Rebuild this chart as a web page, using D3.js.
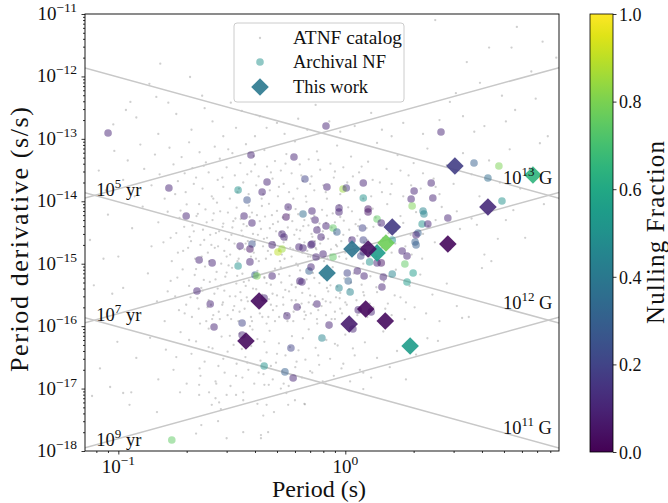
<!DOCTYPE html>
<html><head><meta charset="utf-8">
<script src="https://cdn.jsdelivr.net/npm/d3@7"></script>
<style>
body{margin:0;background:#fff}
text{font-family:"Liberation Serif","DejaVu Serif",serif;fill:#111}
</style>
</head><body>
<svg id="chart" width="668" height="503"></svg>
<script>
// ---------------- DATA ----------------
const xMajorTicks = [0.1, 1];
const xMinorTicks = [0.08,0.09,0.2,0.3,0.4,0.5,0.6,0.7,0.8,0.9,2,3,4,5,6,7,8];
const yMajorTicks = [1e-11,1e-12,1e-13,1e-14,1e-15,1e-16,1e-17,1e-18];
const yTickExp = ["−11","−12","−13","−14","−15","−16","−17","−18"];
const xTickExp = ["−1","0"];
const cbTicks = [0,0.2,0.4,0.6,0.8,1.0];
const ageLinesYr = [1e5,1e7,1e9];
const ageLabels = ["5","7","9"];
const bLinesG = [1e11,1e12,1e13];
const bLabels = ["11","12","13"];
const legendLabels = ["ATNF catalog","Archival NF","This work"];

// ATNF catalog pulsars [P (s), Pdot (s/s)]
const atnfPoints = [
[2.49,8.0e-12],[5.7,6.2e-12],[3.43,1.7e-12],[4.3,2.9e-12],[5.4,2.9e-12],[7.4,3.6e-12],[8.5,2.0e-12],[6.6,1.2e-12],[0.153,1.6e-12],[0.207,9.8e-13],[0.137,7.6e-13],[0.113,3.9e-13],[0.147,4.7e-13],[0.234,4.9e-13],[0.166,3.8e-13],[0.313,3.8e-13],[3.92,7.9e-13],[4.9,4.9e-13],[6.9,4.4e-13],[2.89,3.9e-13],[3.07,5.4e-13],
[0.12,2.2e-13],[0.18,2.5e-13],[0.26,1.9e-13],[0.35,2.8e-13],[0.45,1.5e-13],[0.62,2.1e-13],[0.95,1.3e-13],[1.3,2.6e-13],[1.8,1.8e-13],[2.2,1.2e-13],[3.3,2.3e-13],[4.1,1.6e-13],[5.6,2.9e-13],[7.8,1.1e-13],[0.095,1.7e-13],[0.21,1.4e-13],[0.29,1.1e-13],[0.54,1.2e-13],[0.74,3.5e-13],[1.1,1.6e-13],[1.6,1.1e-13],[2.6,2.0e-13],[0.15,1.2e-13],[0.4,1.1e-13],[0.33,1.5e-13],[0.5,1.8e-13],[0.85,1.9e-13],[1.45,1.4e-13],[0.24,3.1e-13],[0.68,1.4e-13],[3.7,1.3e-13],[5.1,1.9e-13],[0.108,2.9e-13],[0.42,2.3e-13],
[0.082,3.1e-14],[0.088,1.5e-14],[0.096,6.4e-14],[0.105,2.2e-14],[0.11,4.5e-14],[0.118,1.2e-14],[0.125,8.1e-14],[0.13,3.3e-14],[0.14,1.8e-14],[0.145,5.6e-14],[0.152,2.7e-14],[0.16,1.1e-14],[0.168,7.2e-14],[0.175,3.9e-14],[0.183,2.1e-14],[0.19,5.1e-14],[0.198,1.4e-14],[0.205,8.8e-14],[0.212,3.4e-14],[0.22,2.4e-14],[0.228,6.1e-14],[0.235,1.6e-14],[0.243,4.2e-14],[0.25,2.9e-14],[0.258,1.2e-14],[0.266,7.5e-14],[0.274,2.2e-14],[0.28,4.8e-14],[0.29,1.7e-14],[0.3,3.5e-14],[0.31,1.1e-14],[0.318,5.9e-14],[0.326,2.6e-14],[0.335,1.4e-14],[0.345,4.1e-14],[0.355,2.0e-14],[0.365,8.2e-14],[0.375,1.3e-14],[0.385,3.0e-14],[0.395,5.3e-14],[0.405,1.8e-14],[0.415,2.5e-14],[0.428,1.1e-14],[0.44,6.6e-14],[0.452,3.6e-14],[0.465,1.5e-14],[0.478,2.3e-14],[0.49,4.4e-14],[0.505,1.2e-14],[0.52,3.1e-14],[0.535,1.9e-14],[0.55,5.7e-14],[0.565,1.4e-14],[0.58,2.8e-14],[0.6,9.1e-14],[0.615,1.6e-14],[0.63,3.9e-14],[0.65,2.1e-14],[0.67,1.2e-14],[0.69,4.7e-14],[0.71,2.5e-14],[0.73,1.5e-14],[0.75,6.3e-14],[0.775,3.2e-14],[0.8,1.8e-14],[0.83,1.1e-14],[0.86,4.0e-14],[0.89,2.4e-14],[0.92,7.8e-14],[0.95,1.3e-14],[0.98,3.5e-14],[1.02,2.0e-14],[1.06,5.2e-14],[1.1,1.5e-14],[1.15,2.9e-14],[1.2,1.1e-14],[1.26,4.3e-14],[1.32,2.2e-14],[1.38,8.6e-14],[1.45,1.4e-14],[1.52,3.3e-14],[1.6,1.9e-14],[1.7,5.5e-14],[1.8,1.2e-14],[1.9,2.6e-14],[2.0,4.1e-14],[2.15,1.6e-14],[2.3,7.0e-14],[2.45,2.3e-14],[2.6,1.3e-14],[2.8,3.8e-14],[3.0,1.9e-14],[3.3,5.9e-14],[3.6,2.7e-14],[3.9,1.2e-14],[4.3,4.5e-14],[4.8,2.0e-14],[5.3,6.8e-14],[5.9,1.6e-14],[6.5,3.4e-14],[7.2,8.5e-14],[8.0,2.2e-14],
[0.178,1.3e-14],[0.196,2.8e-14],[0.215,1.9e-14],[0.238,3.7e-14],[0.262,1.1e-14],[0.287,2.4e-14],[0.305,6.8e-14],[0.34,1.6e-14],[0.37,2.7e-14],[0.4,3.9e-14],[0.435,1.3e-14],[0.47,2.9e-14],[0.51,1.7e-14],[0.545,4.0e-14],[0.59,1.1e-14],[0.64,2.6e-14],[0.7,1.9e-14],[0.76,4.6e-14],[0.82,1.4e-14],[0.9,3.0e-14],[0.99,1.7e-14],[1.08,2.5e-14],[1.18,3.6e-14],[1.3,1.2e-14],[1.42,2.0e-14],[1.58,1.3e-14],[1.75,3.1e-14],[1.95,1.8e-14],[2.2,2.8e-14],[2.5,1.7e-14],
[0.075,2.4e-15],[0.09,6.1e-15],[0.1,1.3e-15],[0.115,3.7e-15],[0.128,8.2e-15],[0.14,1.9e-15],[0.15,4.6e-15],[0.158,2.2e-15],[0.165,6.8e-15],[0.172,1.1e-15],[0.18,3.1e-15],[0.186,5.4e-15],[0.193,1.6e-15],[0.2,8.9e-15],[0.206,2.7e-15],[0.212,4.1e-15],[0.218,1.2e-15],[0.224,6.3e-15],[0.23,2.0e-15],[0.236,3.5e-15],[0.242,7.4e-15],[0.248,1.5e-15],[0.254,2.9e-15],[0.26,5.0e-15],[0.266,1.8e-15],[0.272,9.5e-15],[0.278,3.3e-15],[0.284,1.0e-15],[0.29,4.4e-15],[0.297,2.5e-15],[0.304,6.6e-15],[0.311,1.4e-15],[0.318,3.8e-15],[0.325,2.1e-15],[0.332,7.9e-15],[0.339,1.2e-15],[0.346,5.2e-15],[0.353,2.8e-15],[0.36,1.7e-15],[0.368,4.0e-15],[0.376,8.5e-15],[0.384,1.3e-15],[0.392,3.0e-15],[0.4,2.3e-15],[0.408,6.0e-15],[0.416,1.1e-15],[0.425,3.6e-15],[0.434,1.9e-15],[0.443,5.7e-15],[0.452,2.6e-15],[0.461,9.1e-15],[0.47,1.4e-15],[0.48,4.3e-15],[0.49,2.0e-15],[0.5,7.0e-15],[0.51,1.6e-15],[0.52,3.2e-15],[0.53,5.5e-15],[0.54,1.2e-15],[0.55,2.4e-15],[0.56,8.0e-15],[0.572,1.8e-15],[0.584,4.8e-15],[0.596,2.9e-15],[0.608,1.0e-15],[0.62,6.2e-15],[0.633,3.4e-15],[0.646,1.5e-15],[0.66,2.2e-15],[0.674,9.8e-15],[0.688,4.1e-15],[0.702,1.3e-15],[0.716,2.7e-15],[0.73,5.9e-15],[0.745,1.7e-15],[0.76,3.9e-15],[0.775,2.1e-15],[0.79,7.3e-15],[0.806,1.1e-15],[0.822,4.5e-15],[0.84,2.5e-15],[0.86,1.4e-15],[0.88,6.4e-15],[0.9,3.1e-15],[0.92,1.9e-15],[0.94,8.7e-15],[0.96,2.3e-15],[0.985,4.9e-15],[1.01,1.2e-15],[1.04,3.5e-15],[1.07,6.9e-15],[1.1,1.6e-15],[1.13,2.8e-15],[1.16,5.1e-15],[1.2,1.0e-15],[1.24,3.7e-15],[1.28,2.0e-15],[1.32,7.6e-15],[1.37,1.3e-15],[1.42,4.2e-15],[1.47,2.6e-15],[1.53,9.0e-15],[1.6,1.5e-15],[1.67,3.3e-15],[1.75,5.8e-15],[1.84,1.9e-15],[1.94,2.9e-15],[2.05,6.7e-15],[2.18,1.2e-15],[2.32,4.0e-15],[2.48,2.2e-15],[2.66,8.1e-15],[2.9,1.7e-15],[3.2,3.6e-15],[3.6,5.3e-15],[4.1,1.4e-15],[4.7,2.5e-15],[5.5,7.2e-15],
[0.183,1.5e-15],[0.195,3.9e-15],[0.209,2.3e-15],[0.221,5.8e-15],[0.233,1.3e-15],[0.245,4.6e-15],[0.257,2.0e-15],[0.269,3.1e-15],[0.281,6.9e-15],[0.293,1.6e-15],[0.307,2.4e-15],[0.321,4.8e-15],[0.335,1.1e-15],[0.349,3.4e-15],[0.364,2.1e-15],[0.379,5.6e-15],[0.395,1.5e-15],[0.412,2.9e-15],[0.429,8.4e-15],[0.447,1.2e-15],[0.465,3.7e-15],[0.485,2.2e-15],[0.505,4.7e-15],[0.525,1.4e-15],[0.545,2.7e-15],[0.566,6.1e-15],[0.588,1.7e-15],[0.61,3.5e-15],[0.635,2.0e-15],[0.66,5.0e-15],[0.685,1.3e-15],[0.71,3.0e-15],[0.74,1.8e-15],[0.77,4.4e-15],[0.8,2.6e-15],[0.835,1.2e-15],[0.87,3.8e-15],[0.91,2.0e-15],[0.95,5.6e-15],[1.0,1.5e-15],[1.05,2.6e-15],[1.11,4.3e-15],[1.18,1.7e-15],[1.25,2.4e-15],[1.33,3.9e-15],[3.8,4.2e-15],[4.4,1.1e-15],[5.1,5.0e-15],[6.2,2.6e-15],[7.5,9.0e-15],
[0.17,2.6e-15],[0.188,7.1e-15],[0.203,1.8e-15],[0.215,3.3e-15],[0.227,9.0e-15],[0.239,2.4e-15],[0.251,1.1e-15],[0.263,6.4e-15],[0.275,1.9e-15],[0.288,3.9e-15],[0.3,1.3e-15],[0.315,2.9e-15],[0.328,5.3e-15],[0.342,1.7e-15],[0.356,4.3e-15],[0.372,2.3e-15],[0.388,6.6e-15],[0.404,1.2e-15],[0.42,4.8e-15],[0.438,2.5e-15],[0.456,1.6e-15],[0.475,6.0e-15],[0.495,3.3e-15],[0.515,1.1e-15],[0.535,2.2e-15],[0.558,3.8e-15],[0.58,1.3e-15],[0.604,7.5e-15],[0.628,2.5e-15],[0.653,4.0e-15],[0.68,1.6e-15],[0.707,5.3e-15],[0.735,2.3e-15],[0.765,1.2e-15],[0.796,3.3e-15],[0.83,5.9e-15],[0.865,1.7e-15],[0.9,4.6e-15],[0.94,1.3e-15],[0.98,2.9e-15],[1.03,8.0e-15],[1.08,1.9e-15],[1.14,4.0e-15],[1.21,2.2e-15],[1.28,1.3e-15],[1.36,5.5e-15],[1.45,1.8e-15],[1.55,3.1e-15],[1.66,2.1e-15],[1.8,4.5e-15],[1.96,1.4e-15],[2.2,3.0e-15],[2.5,5.0e-15],[2.8,2.6e-15],[3.1,6.9e-15],
[0.105,4.1e-16],[0.12,1.6e-16],[0.135,7.0e-16],[0.148,2.5e-16],[0.16,1.2e-16],[0.17,5.3e-16],[0.178,3.0e-16],[0.185,1.8e-16],[0.192,8.1e-16],[0.199,2.2e-16],[0.205,4.4e-16],[0.211,1.4e-16],[0.217,6.6e-16],[0.223,2.8e-16],[0.229,1.1e-16],[0.235,3.7e-16],[0.241,9.0e-16],[0.247,2.0e-16],[0.253,5.1e-16],[0.259,1.3e-16],[0.265,3.3e-16],[0.271,7.4e-16],[0.277,1.7e-16],[0.283,4.5e-16],[0.289,2.4e-16],[0.296,6.2e-16],[0.303,1.5e-16],[0.31,3.0e-16],[0.317,8.6e-16],[0.324,2.1e-16],[0.331,4.8e-16],[0.338,1.2e-16],[0.345,3.5e-16],[0.352,6.9e-16],[0.36,1.9e-16],[0.368,2.9e-16],[0.376,5.4e-16],[0.384,1.4e-16],[0.392,4.0e-16],[0.4,2.3e-16],[0.41,7.7e-16],[0.42,1.6e-16],[0.43,3.2e-16],[0.44,5.9e-16],[0.45,1.1e-16],[0.46,2.7e-16],[0.47,4.6e-16],[0.48,1.8e-16],[0.49,8.3e-16],[0.5,3.1e-16],[0.511,1.4e-16],[0.522,5.0e-16],[0.533,2.2e-16],[0.544,3.8e-16],[0.556,1.2e-16],[0.568,6.4e-16],[0.58,2.6e-16],[0.592,1.7e-16],[0.605,4.2e-16],[0.618,9.3e-16],[0.632,2.0e-16],[0.646,3.4e-16],[0.66,1.3e-16],[0.675,5.6e-16],[0.69,2.4e-16],[0.705,1.6e-16],[0.72,7.1e-16],[0.736,3.0e-16],[0.752,1.1e-16],[0.769,4.9e-16],[0.786,2.1e-16],[0.804,6.0e-16],[0.822,1.5e-16],[0.841,3.6e-16],[0.86,2.4e-16],[0.88,8.8e-16],[0.9,1.3e-16],[0.922,4.3e-16],[0.944,2.8e-16],[0.967,1.6e-16],[0.99,5.8e-16],[1.015,2.2e-16],[1.04,3.9e-16],[1.065,1.2e-16],[1.09,7.0e-16],[1.12,2.6e-16],[1.15,1.7e-16],[1.18,4.6e-16],[1.21,3.1e-16],[1.25,1.4e-16],[1.29,6.3e-16],[1.33,2.0e-16],[1.38,3.5e-16],[1.43,1.1e-16],[1.48,5.2e-16],[1.54,2.3e-16],[1.6,1.5e-16],[1.67,8.0e-16],[1.75,2.9e-16],[1.83,1.3e-16],[1.92,4.4e-16],[2.02,2.0e-16],[2.14,6.7e-16],[2.27,1.6e-16],[2.42,3.2e-16],[2.6,1.2e-16],[2.8,4.8e-16],[3.1,2.1e-16],[3.5,1.4e-16],[3.27,1.35e-16],[4.0,8.5e-16],
[0.226,1.9e-16],[0.238,5.5e-16],[0.25,2.6e-16],[0.262,1.5e-16],[0.274,4.0e-16],[0.287,2.2e-16],[0.3,7.2e-16],[0.314,1.3e-16],[0.328,3.0e-16],[0.342,1.7e-16],[0.357,5.1e-16],[0.372,2.5e-16],[0.388,1.2e-16],[0.405,3.9e-16],[0.422,2.0e-16],[0.44,6.1e-16],[0.458,1.4e-16],[0.478,3.3e-16],[0.498,2.1e-16],[0.52,8.7e-16],[0.542,1.6e-16],[0.565,3.6e-16],[0.59,1.2e-16],[0.615,4.8e-16],[0.642,2.3e-16],[0.67,1.5e-16],[0.7,3.1e-16],[0.73,5.9e-16],[0.76,1.8e-16],[0.795,2.7e-16],[0.83,4.1e-16],[0.87,1.3e-16],[0.91,2.9e-16],[0.95,1.9e-16],
[0.165,3.6e-16],[0.182,6.0e-16],[0.196,1.6e-16],[0.208,2.9e-16],[0.22,8.2e-16],[0.232,4.1e-16],[0.244,1.2e-16],[0.256,2.2e-16],[0.268,5.6e-16],[0.28,1.3e-16],[0.293,3.7e-16],[0.306,9.4e-16],[0.32,1.8e-16],[0.334,6.4e-16],[0.348,2.6e-16],[0.364,4.4e-16],[0.38,1.0e-16],[0.396,7.0e-16],[0.413,2.9e-16],[0.431,1.4e-16],[0.45,4.9e-16],[0.47,2.2e-16],[0.49,1.2e-16],[0.51,6.8e-16],[0.532,2.9e-16],[0.555,1.5e-16],[0.58,4.6e-16],[0.605,2.6e-16],[0.632,7.8e-16],[0.66,1.7e-16],[0.69,4.0e-16],[0.72,2.2e-16],[0.75,1.3e-16],[0.785,6.5e-16],[0.82,2.5e-16],[0.86,4.5e-16],[0.9,1.7e-16],[0.95,3.4e-16],[1.0,2.4e-16],[1.06,5.0e-16],[1.13,1.5e-16],[1.2,3.5e-16],[1.28,2.3e-16],[1.37,4.2e-16],[1.5,1.9e-16],[1.65,3.1e-16],[1.85,2.4e-16],
[0.078,4.5e-16],[0.086,1.2e-15],[0.094,3.3e-16],[0.083,2.1e-17],[0.099,5.6e-17],
[0.12,3.1e-17],[0.138,6.5e-17],[0.15,1.4e-17],[0.162,4.2e-17],[0.175,2.0e-17],[0.188,8.0e-17],[0.2,1.2e-17],[0.21,3.6e-17],[0.22,5.7e-17],[0.23,1.6e-17],[0.24,2.7e-17],[0.25,9.1e-17],[0.26,4.4e-17],[0.268,1.3e-17],[0.276,2.3e-17],[0.285,6.8e-17],[0.294,1.8e-17],[0.303,3.9e-17],[0.312,1.1e-17],[0.322,5.0e-17],[0.332,2.5e-17],[0.342,7.6e-17],[0.352,1.5e-17],[0.363,3.2e-17],[0.374,2.0e-17],[0.385,4.8e-17],[0.397,1.2e-17],[0.41,6.2e-17],[0.423,2.8e-17],[0.436,1.7e-17],[0.45,3.8e-17],[0.464,8.4e-17],[0.479,1.4e-17],[0.495,2.6e-17],[0.51,5.3e-17],[0.527,1.9e-17],[0.545,3.4e-17],[0.563,1.1e-17],[0.582,6.9e-17],[0.602,2.2e-17],[0.622,4.1e-17],[0.644,1.5e-17],[0.667,2.9e-17],[0.69,8.9e-17],[0.715,1.8e-17],[0.74,4.5e-17],[0.767,2.4e-17],[0.795,1.3e-17],[0.825,6.0e-17],[0.857,3.0e-17],[0.89,1.6e-17],[0.925,4.9e-17],[0.962,2.1e-17],[1.0,7.3e-17],[1.05,1.3e-17],[1.1,3.4e-17],[1.16,2.0e-17],[1.22,5.5e-17],[1.3,1.5e-17],[1.38,3.1e-17],[1.47,8.2e-17],[1.57,2.2e-17],[1.69,4.0e-17],[1.85,1.4e-17],[2.05,3.5e-17],[2.3,6.4e-17],[2.56,5.8e-17],
[0.18,3.2e-17],[0.205,6.0e-17],[0.228,2.1e-17],[0.25,4.6e-17],[0.27,1.2e-17],[0.29,3.0e-17],[0.31,7.0e-17],[0.33,1.6e-17],[0.35,4.3e-17],[0.37,2.6e-17],[0.39,8.8e-17],[0.415,1.8e-17],[0.44,5.6e-17],[0.47,2.3e-17],[0.5,3.6e-17],[0.535,1.2e-17],[0.57,4.6e-17],[0.61,2.7e-17],[0.65,6.4e-17],[0.7,1.9e-17],[0.76,3.4e-17],[0.82,1.2e-17],[0.9,5.2e-17],[0.98,2.5e-17],[1.08,4.4e-17],[1.2,1.8e-17],
[0.0766,7.6e-18],[0.092,1.06e-17],[0.105,8.5e-18],[0.114,8.7e-18],[0.112,5.5e-18],[0.148,4.2e-18],[0.187,8.7e-18],[0.227,7.9e-18],[0.227,1.15e-17],[0.251,8.7e-18],[0.258,5.5e-18],[0.268,7.0e-18],[0.278,6.0e-18],[0.283,4.7e-18],[0.30,7.9e-18],[0.33,7.9e-18],[0.355,8.7e-18],[0.355,6.5e-18],[0.232,2.6e-18],[0.275,3.0e-18],[0.22,1.9e-18],[0.30,1.6e-18],[0.355,2.0e-18],[0.425,1.8e-18],[0.425,1.6e-18],[0.457,2.0e-18],[0.435,3.7e-18],[0.41,5.7e-18],[0.45,5.5e-18],[0.485,4.2e-18],[0.44,1.15e-17],[0.46,1.15e-17],[0.52,1.0e-17],[0.55,8.5e-18],[0.56,5.5e-18],[0.60,6.5e-18],[0.66,5.7e-18],[0.664,5.6e-18],[1.2,9.8e-18]
];

// Archival nulling fractions
const nfP = [0.0901,0.384,0.594,0.822,0.167,0.452,0.664,0.830,0.337,0.369,0.430,0.199,0.560,0.358,0.388,0.548,0.651,0.713,0.736,0.822,0.750,0.526,0.537,0.782,0.344,0.388,0.380,0.476,0.526,0.505,0.625,0.706,0.743,0.798,0.227,0.259,0.337,0.380,0.400,0.408,0.476,0.631,0.692,0.706,0.222,2.64,3.69,4.75,4.25,4.90,1.20,0.977,1.01,2.39,2.01,1.20,1.95,2.43,1.97,0.938,0.938,1.26,1.26,2.20,2.22,0.883,0.918,1.19,1.38,1.44,2.18,2.31,2.83,2.09,2.05,1.61,1.20,1.07,0.713,0.651,0.883,1.20,1.17,1.28,1.38,1.44,1.78,1.87,2.03,2.05,1.83,1.99,1.61,1.87,1.47,1.45,1.21,1.13,1.02,1.03,1.05,0.938,0.644,0.254,0.439,0.613,0.750,0.553,0.351,0.264,0.848,0.789,0.576,0.439,0.542,0.589,0.172,0.351,1.08,1.14,1.30];
const nfPdot = [1.24e-13,5.5e-14,5.12e-14,1.61e-13,1.63e-14,2.04e-14,2.28e-14,1.69e-14,1.52e-14,1.05e-14,1.41e-14,5.81e-15,8.11e-15,5.81e-15,4.49e-15,5.60e-15,6.25e-15,6.98e-15,5.01e-15,4.02e-15,3.47e-15,2.99e-15,2.68e-15,2.68e-15,1.92e-15,2.07e-15,1.72e-15,2.0e-15,1.72e-15,1.54e-15,1.85e-15,2.0e-15,1.28e-15,1.43e-15,1.15e-15,1.03e-15,9.2e-16,1.07e-15,6.6e-16,6.35e-16,6.35e-16,5.28e-16,7.64e-16,8.85e-16,3.66e-16,1.29e-13,4.1e-14,3.67e-14,2.36e-14,1.01e-14,1.96e-14,1.57e-14,1.63e-14,1.96e-14,1.46e-14,1.13e-14,1.09e-14,1.13e-14,8.41e-15,7.82e-15,6.74e-15,7.53e-15,6.74e-15,6.98e-15,6.25e-15,3.73e-15,3.22e-15,3.73e-15,5.2e-15,4.49e-15,4.32e-15,4.32e-15,5.4e-15,3.1e-15,2.88e-15,2.4e-15,2.4e-15,2.4e-15,2.07e-15,1.79e-15,1.28e-15,1.54e-15,1.33e-15,1.07e-15,1.03e-15,1.03e-15,1.6e-15,1.33e-15,2.23e-15,2.0e-15,9.9e-16,7.1e-16,6.84e-16,5.09e-16,6.12e-16,4.24e-16,6.35e-16,7.64e-16,7.1e-16,5.28e-16,3.52e-16,4.08e-16,5.09e-16,2.26e-16,2.83e-16,2.03e-16,2.26e-16,1.46e-16,1.12e-16,9.7e-17,1.04e-16,6.46e-17,4.47e-17,2.3e-17,1.85e-17,1.48e-17,1.5e-18,7.2e-17,9.0e-17,1.82e-16,1.69e-16];
const nfFrac = [0.1,0.1,0.1,0.1,0.1,0.1,0.2,0.1,0.5,0.25,0.1,0.1,0.1,0.1,0.1,0.05,0.35,0.1,0.1,0.1,0.1,0.1,0.1,0.1,0.1,0.25,0.05,0.1,0.85,0.9,0.1,0.1,0.1,0.1,0.1,0.1,0.5,0.1,0.3,0.8,0.1,0.1,0.3,0.1,0.1,0.1,0.3,0.8,0.35,0.5,0.1,0.85,0.15,0.1,0.1,0.5,0.1,0.1,0.8,0.1,0.1,0.05,0.05,0.45,0.45,0.75,0.3,0.2,0.75,0.1,0.5,0.1,0.1,0.3,0.1,0.5,0.2,0.1,0.1,0.1,0.75,0.1,0.2,0.5,0.1,0.05,0.1,0.1,0.3,0.3,0.75,0.55,0.45,0.55,0.1,0.1,0.1,0.1,0.2,0.3,0.45,0.45,0.1,0.1,0.1,0.1,0.1,0.1,0.2,0.1,0.1,0.45,0.2,0.5,0.3,0.1,0.75,0.1,0.1,0.1,0.1];

// This work
const workP = [3.04,6.71,4.25,2.83,1.61,1.51,1.38,1.26,1.07,0.831,0.417,0.365,1.23,1.04,1.50,1.93];
const workPdot = [3.67e-14,2.64e-14,8.11e-15,2.07e-15,3.87e-15,2.15e-15,1.49e-15,1.72e-15,1.72e-15,7.1e-16,2.53e-16,5.78e-17,1.88e-16,1.08e-16,1.21e-16,4.81e-17];
const workFrac = [0.18,0.65,0.12,0.02,0.17,0.78,0.55,0.04,0.38,0.40,0.03,0.03,0.02,0.08,0.03,0.55];

// ---------------- CHART ----------------
const L=85, R=559, T=14, B=451;
const svg = d3.select("#chart");
const x = d3.scaleLog().domain([0.0713, 8.74]).range([L, R]);
const y = d3.scaleLog().domain([1e-18, 1e-11]).range([B, T]);
const color = d3.scaleSequential(d3.interpolateViridis).domain([0,1]);

svg.append("defs").append("clipPath").attr("id","clip")
  .append("rect").attr("x",L).attr("y",T).attr("width",R-L).attr("height",B-T);

const plot = svg.append("g").attr("clip-path","url(#clip)");

// ATNF
plot.append("g").selectAll("circle").data(atnfPoints).join("circle")
  .attr("cx",d=>x(d[0])).attr("cy",d=>y(d[1])).attr("r",1.15)
  .attr("fill","#8c8c8c").attr("fill-opacity",0.42);

// reference lines
const YR = 3.15576e7;
const Pends = x.domain();
const lineGen = d3.line().x(d=>x(d[0])).y(d=>y(d[1]));
const ageFn = t => P => P/(2*t*YR);
const bFn = b => P => Math.pow(b/3.2e19,2)/P;
const lineFns = ageLinesYr.map(ageFn).concat(bLinesG.map(bFn));
plot.append("g").selectAll("path").data(lineFns).join("path")
  .attr("d",f=>lineGen(Pends.map(p=>[p,f(p)])))
  .attr("fill","none").attr("stroke","#c8c8c8").attr("stroke-width",1.5);

// Archival NF circles
const nfData = nfP.map((p,i)=>({P:p,Pd:nfPdot[i],f:nfFrac[i]}));
plot.append("g").selectAll("circle").data(nfData).join("circle")
  .attr("cx",d=>x(d.P)).attr("cy",d=>y(d.Pd)).attr("r",3.8)
  .attr("fill",d=>color(d.f)).attr("fill-opacity",0.5);

// This work diamonds
const workData = workP.map((p,i)=>({P:p,Pd:workPdot[i],f:workFrac[i]}));
const dsym = d3.symbol().type(d3.symbolSquare).size(155);
plot.append("g").selectAll("path").data(workData).join("path")
  .attr("d",dsym)
  .attr("transform",d=>`translate(${x(d.P)},${y(d.Pd)}) rotate(45)`)
  .attr("fill",d=>color(d.f)).attr("fill-opacity",0.9);

// line labels
function supText(g, xx, yy, base, exp, rest, fs, sfs, anchor){
  const t = g.append("text").attr("x",xx).attr("y",yy).attr("font-size",fs).attr("text-anchor",anchor||"start");
  t.append("tspan").text(base);
  t.append("tspan").attr("font-size",sfs).attr("dy",-fs*0.42).text(exp);
  if(rest) t.append("tspan").attr("dy",fs*0.42).text(rest);
  return t;
}
const labG = svg.append("g");
const ageLabelP = 0.08, bLabelP = 4.95;
ageLinesYr.forEach((t,i)=>supText(labG, x(ageLabelP), y(ageFn(t)(ageLabelP))+1, "10", ageLabels[i], " yr", 18.5, 13));
bLinesG.forEach((b,i)=>supText(labG, x(bLabelP), y(bFn(b)(bLabelP))+1, "10", bLabels[i], " G", 18.5, 13));

// axes
const gx = svg.append("g").attr("transform",`translate(0,${B})`);
gx.call(d3.axisBottom(x).tickValues(xMajorTicks).tickSize(3.5).tickFormat(""));
const gxm = svg.append("g").attr("transform",`translate(0,${B})`);
gxm.call(d3.axisBottom(x).tickValues(xMinorTicks).tickSize(2).tickFormat(""));
const gy = svg.append("g").attr("transform",`translate(${L},0)`);
gy.call(d3.axisLeft(y).tickValues(yMajorTicks).tickSize(3.5).tickFormat(""));
const yMinor = [];
yMajorTicks.slice(1).forEach(v=>{ for(let k=2;k<=9;k++) yMinor.push(v*k); });
const gym = svg.append("g").attr("transform",`translate(${L},0)`);
gym.call(d3.axisLeft(y).tickValues(yMinor).tickSize(2).tickFormat(""));
[gx,gxm,gy,gym].forEach(g=>{g.select(".domain").remove(); g.selectAll("line").attr("stroke","#000").attr("stroke-width",0.8);});

xMajorTicks.forEach((v,i)=>supText(svg, x(v), B+22, "10", xTickExp[i], null, 19, 13.5, "middle"));
yMajorTicks.forEach((v,i)=>{
  const t = svg.append("text").attr("x",L-8).attr("y",y(v)+6).attr("font-size",19).attr("text-anchor","end");
  t.append("tspan").text("10");
  t.append("tspan").attr("font-size",13.5).attr("dy",-8).text(yTickExp[i]);
});

// frame
svg.append("rect").attr("x",L).attr("y",T).attr("width",R-L).attr("height",B-T)
  .attr("fill","none").attr("stroke","#000").attr("stroke-width",0.9);

// axis titles
svg.append("text").attr("x",(L+R)/2-3).attr("y",497).attr("text-anchor","middle")
  .attr("font-size",24).attr("textLength",94).attr("lengthAdjust","spacingAndGlyphs").text("Period (s)");
svg.append("text").attr("transform",`translate(28,${(T+B)/2+7}) rotate(-90)`).attr("text-anchor","middle")
  .attr("font-size",26).attr("textLength",265).attr("lengthAdjust","spacing").text("Period derivative (s/s)");

// legend
const lg = svg.append("g");
lg.append("rect").attr("x",234).attr("y",23).attr("width",170).attr("height",79).attr("rx",3)
  .attr("fill","#fff").attr("fill-opacity",0.8).attr("stroke","#cccccc").attr("stroke-width",1);
const rowsY = [38,62,87];
lg.append("circle").attr("cx",260).attr("cy",rowsY[0]).attr("r",1.15).attr("fill","#8c8c8c").attr("fill-opacity",0.42);
lg.append("circle").attr("cx",260).attr("cy",rowsY[1]).attr("r",3.8).attr("fill",color(0.5)).attr("fill-opacity",0.5);
lg.append("path").attr("d",dsym()).attr("transform",`translate(260,${rowsY[2]}) rotate(45)`).attr("fill",color(0.4)).attr("fill-opacity",0.9);
const legW = [109,93,75];
legendLabels.forEach((s,i)=>lg.append("text").attr("x",293).attr("y",rowsY[i]+6).attr("font-size",18.5)
  .attr("textLength",legW[i]).attr("lengthAdjust","spacingAndGlyphs").text(s));

// colorbar
const cbX=590, cbW=23;
const grad = svg.select("defs").append("linearGradient").attr("id","vir").attr("x1",0).attr("y1",1).attr("x2",0).attr("y2",0);
d3.range(0,1.0001,0.05).forEach(t=>grad.append("stop").attr("offset",t).attr("stop-color",color(t)));
const cy = d3.scaleLinear().domain([0,1]).range([B+1,T]);
svg.append("rect").attr("x",cbX).attr("y",T).attr("width",cbW).attr("height",B+1-T).attr("fill","url(#vir)")
  .attr("stroke","#000").attr("stroke-width",0.8);
const gc = svg.append("g").attr("transform",`translate(${cbX+cbW},0)`);
gc.call(d3.axisRight(cy).tickValues(cbTicks).tickSize(3.5).tickFormat(d3.format(".1f")));
gc.select(".domain").remove();
gc.selectAll("line").attr("stroke","#000").attr("stroke-width",0.8);
gc.selectAll("text").attr("font-size",18).attr("x",6).attr("dy","0.35em").attr("font-family","Liberation Serif").attr("fill","#111");
svg.append("text").attr("transform",`translate(664,${(T+B)/2}) rotate(-90)`).attr("text-anchor","middle")
  .attr("font-size",25).attr("textLength",183).attr("lengthAdjust","spacing").text("Nulling Fraction");
</script>
</body></html>
